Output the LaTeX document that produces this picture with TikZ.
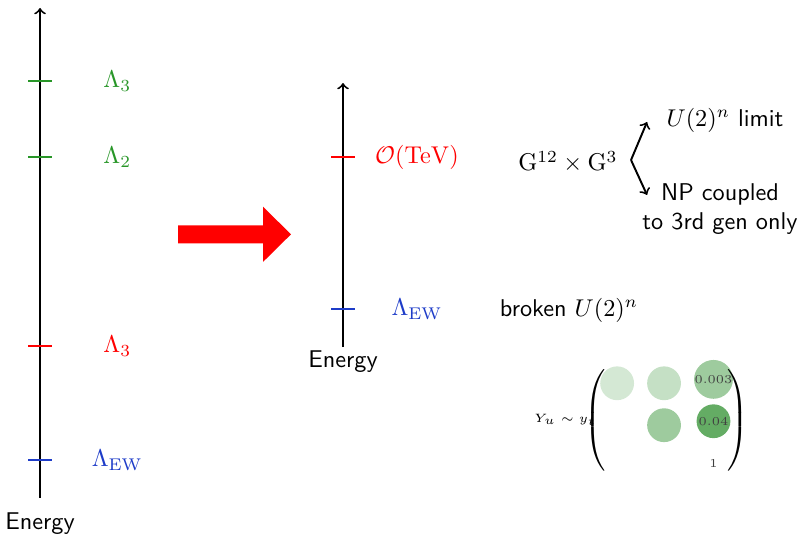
\documentclass[tikz,border=0pt]{standalone}
\usetikzlibrary{matrix}
\definecolor{scalegreen}{RGB}{40,150,40}
\definecolor{ewblue}{RGB}{30,60,200}
\definecolor{yukgreen}{RGB}{40,140,40}
\tikzset{
  axisline/.style={thick,->},
  scaletick/.style={semithick},
  sflabel/.style={font=\sffamily},
  yukcell/.style={fill=yukgreen!#1},
}
\newcommand{\bigdelim}[1]{$\left#1\vcenter{\hbox{\rule{0pt}{1.5cm}}}\right.$}
\begin{document}
\begin{tikzpicture}
        \useasboundingbox (0,0) rectangle (11.623,7.826);
        % full spectrum
        \coordinate (leftbot) at (0.58,0.609);
        \coordinate (lefttop) at (0.58,7.71);
        \draw[axisline] (leftbot) -- (lefttop);
        \node[sflabel] (energyleft) at (0.58,0.232) {Energy};
        \foreach \h / \col / \lab / \nm in {6.652/scalegreen/\Lambda_3/a,5.551/scalegreen/\Lambda_2/b,2.812/red/\Lambda_3/c,1.159/ewblue/\Lambda_{\mathrm{EW}}/d}
        {
            \draw[scaletick,\col] (0.406,\h) -- (0.754,\h);
            \node[text=\col] (left\nm) at (1.70,\h) {$\lab$};
        }
        % big arrow
        \fill[red] (2.58,4.30) -- (3.812,4.30) -- (3.812,4.03) -- (4.217,4.43)
            -- (3.812,4.83) -- (3.812,4.56) -- (2.58,4.56) -- cycle;
        % reduced spectrum
        \coordinate (midbot) at (4.971,2.797);
        \coordinate (midtop) at (4.971,6.623);
        \draw[axisline] (midbot) -- (midtop);
        \node[sflabel] (energymid) at (4.971,2.58) {Energy};
        \draw[scaletick,red] (4.797,5.551) -- (5.145,5.551);
        \node[text=red] (tev) at (6.043,5.551) {$\mathcal{O}(\mathrm{TeV})$};
        \draw[scaletick,ewblue] (4.797,3.348) -- (5.145,3.348);
        \node[text=ewblue] (ew) at (6.043,3.348) {$\Lambda_{\mathrm{EW}}$};
        % symmetry options
        \node (grp) at (8.232,5.478) {$\mathrm{G}^{12}\times\mathrm{G}^3$};
        \coordinate (fork) at (9.145,5.507);
        \coordinate (limend) at (9.377,6.058);
        \coordinate (npend) at (9.377,5.0);
        \node[sflabel,anchor=west] (u2lim) at (9.536,6.087) {$U(2)^n$ limit};
        \node[sflabel,align=center] (np) at (10.435,4.797) {NP coupled\\to 3rd gen only};
        \draw[thick,->] (fork) -- (limend);
        \draw[thick,->] (fork) -- (npend);
        \node[sflabel] (broken) at (8.246,3.333) {broken $U(2)^n$};
        % yukawa texture
        \node[font=\tiny] (yulab) at (8.19,1.739) {$Y_u\sim y_t$};
        \matrix (yuk) [matrix of nodes,inner sep=0pt,
            nodes={circle,minimum size=0.49cm,inner sep=0pt,font=\tiny,text=black!75},
            column sep=0.19cm,row sep=0.06cm] at (9.66,1.739) {
            |[yukcell=20]| {} & |[yukcell=27]| {} & |[yukcell=45]| 0.003 \\
            & |[yukcell=45]| {} & |[yukcell=72]| 0.04 \\
            & & 1 \\
        };
        \node[inner sep=0pt] (lparen) at (8.65,1.739) {\bigdelim(};
        \node[inner sep=0pt] (rparen) at (10.72,1.739) {\bigdelim)};
\end{tikzpicture}
\end{document}
